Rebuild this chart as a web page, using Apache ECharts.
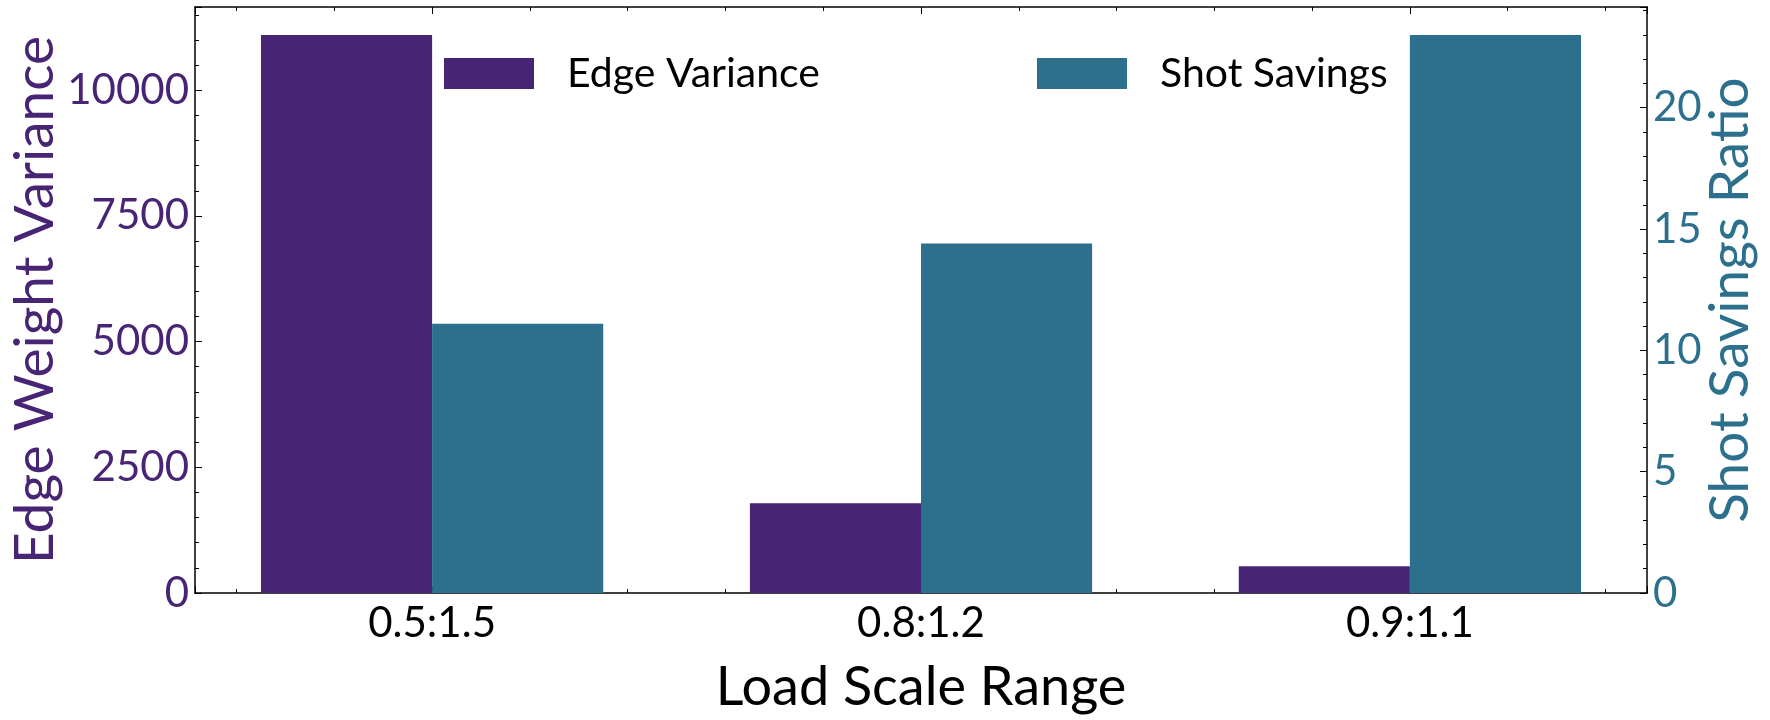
<!DOCTYPE html>
<html>
<head>
<meta charset="utf-8">
<script src="https://cdn.jsdelivr.net/npm/echarts@6/dist/echarts.min.js"></script>
<style>
  html, body { margin: 0; padding: 0; background: #ffffff; }
  #chart { width: 1770px; height: 720px; }
</style>
</head>
<body>
<div id="chart"></div>
<script>
// ---- data ----
const categories = ['0.5:1.5', '0.8:1.2', '0.9:1.1'];
const edgeVariance = [11100, 1785, 531];
const shotSavings = [11.1, 14.4, 23.0];
const seriesNames = ['Edge Variance', 'Shot Savings'];
const leftTicks = [0, 2500, 5000, 7500, 10000];
const rightTicks = [0, 5, 10, 15, 20];

// ---- styling ----
const PURPLE = '#482475';
const TEAL = '#2d708e';
const FONT = 'Lato';
const X_MIN = -0.485, X_MAX = 2.485;
const LEFT_MAX = 11655, RIGHT_MAX = 24.15;

const chart = echarts.init(document.getElementById('chart'), null, { renderer: 'canvas' });

const lineStyle = { color: '#000', width: 1.5 };
const tickStyle = { color: '#000', width: 1 };

function xAxisDef(position, major) {
  return {
    type: 'value', position: position, min: X_MIN, max: X_MAX,
    splitNumber: major ? 3 : 15,
    minInterval: major ? 1 : 0.2, maxInterval: major ? 1 : 0.2,
    axisLine: { show: major, onZero: false, lineStyle: lineStyle },
    axisTick: { show: true, inside: true, length: major ? 7 : 4, lineStyle: tickStyle },
    splitLine: { show: false },
    axisLabel: (major && position === 'bottom') ? {
      show: true, margin: 9, fontFamily: FONT, fontSize: 42, color: '#000',
      showMinLabel: true, showMaxLabel: true,
      formatter: function (v) {
        const i = Math.round(v);
        return (Math.abs(v - i) < 1e-6 && categories[i] !== undefined) ? categories[i] : '';
      }
    } : { show: false },
    name: (major && position === 'bottom') ? 'Load Scale Range' : '',
    nameLocation: 'middle', nameGap: 68, nameMoveOverlap: false,
    nameTextStyle: { fontFamily: FONT, fontSize: 54, color: '#000' }
  };
}

function yAxisDef(position, major, max, interval, ticks, color, name, gap) {
  return {
    type: 'value', position: position, min: 0, max: max, interval: interval,
    axisLine: { show: major, onZero: false, lineStyle: lineStyle },
    axisTick: { show: true, inside: true, length: major ? 7 : 4, lineStyle: tickStyle },
    splitLine: { show: false },
    axisLabel: major ? {
      show: true, margin: 6, fontFamily: FONT, fontSize: 42, color: color,
      formatter: function (v) { return ticks.indexOf(v) >= 0 ? String(v) : ''; }
    } : { show: false },
    name: major ? name : '',
    nameLocation: 'middle', nameGap: gap, nameRotate: 90, nameMoveOverlap: false,
    nameTextStyle: { fontFamily: FONT, fontSize: 55, color: color }
  };
}

const option = {
  backgroundColor: '#ffffff',
  animation: false,
  textStyle: { fontFamily: FONT },
  grid: { left: 193, right: 123, top: 7, bottom: 121, containLabel: false },
  legend: [
    {
      data: [seriesNames[0]], left: 439, top: 48, orient: 'horizontal',
      itemWidth: 90, itemHeight: 31, icon: 'rect',
      textStyle: { fontFamily: FONT, fontSize: 41, color: '#000', lineHeight: 31, padding: [0, 0, 0, 28] }
    },
    {
      data: [seriesNames[1]], left: 1032, top: 48, orient: 'horizontal',
      itemWidth: 90, itemHeight: 31, icon: 'rect',
      textStyle: { fontFamily: FONT, fontSize: 41, color: '#000', lineHeight: 31, padding: [0, 0, 0, 28] }
    }
  ],
  xAxis: [
    xAxisDef('bottom', true),
    xAxisDef('bottom', false),
    xAxisDef('top', true),
    xAxisDef('top', false)
  ],
  yAxis: [
    yAxisDef('left', true, LEFT_MAX, 2500, leftTicks, PURPLE, 'Edge Weight Variance', 132),
    yAxisDef('left', false, LEFT_MAX, 500, leftTicks, PURPLE, '', 0),
    yAxisDef('right', true, RIGHT_MAX, 5, rightTicks, TEAL, 'Shot Savings Ratio', 56),
    yAxisDef('right', false, RIGHT_MAX, 1, rightTicks, TEAL, '', 0)
  ],
  series: [
    {
      name: seriesNames[0], type: 'bar', xAxisIndex: 0, yAxisIndex: 0,
      barWidth: '35%', barGap: '0%',
      itemStyle: { color: PURPLE },
      data: edgeVariance.map(function (v, i) { return [i, v]; })
    },
    {
      name: seriesNames[1], type: 'bar', xAxisIndex: 0, yAxisIndex: 2,
      barWidth: '35%', barGap: '0%',
      itemStyle: { color: TEAL },
      data: shotSavings.map(function (v, i) { return [i, v]; })
    }
  ]
};

chart.setOption(option);
</script>
</body>
</html>
